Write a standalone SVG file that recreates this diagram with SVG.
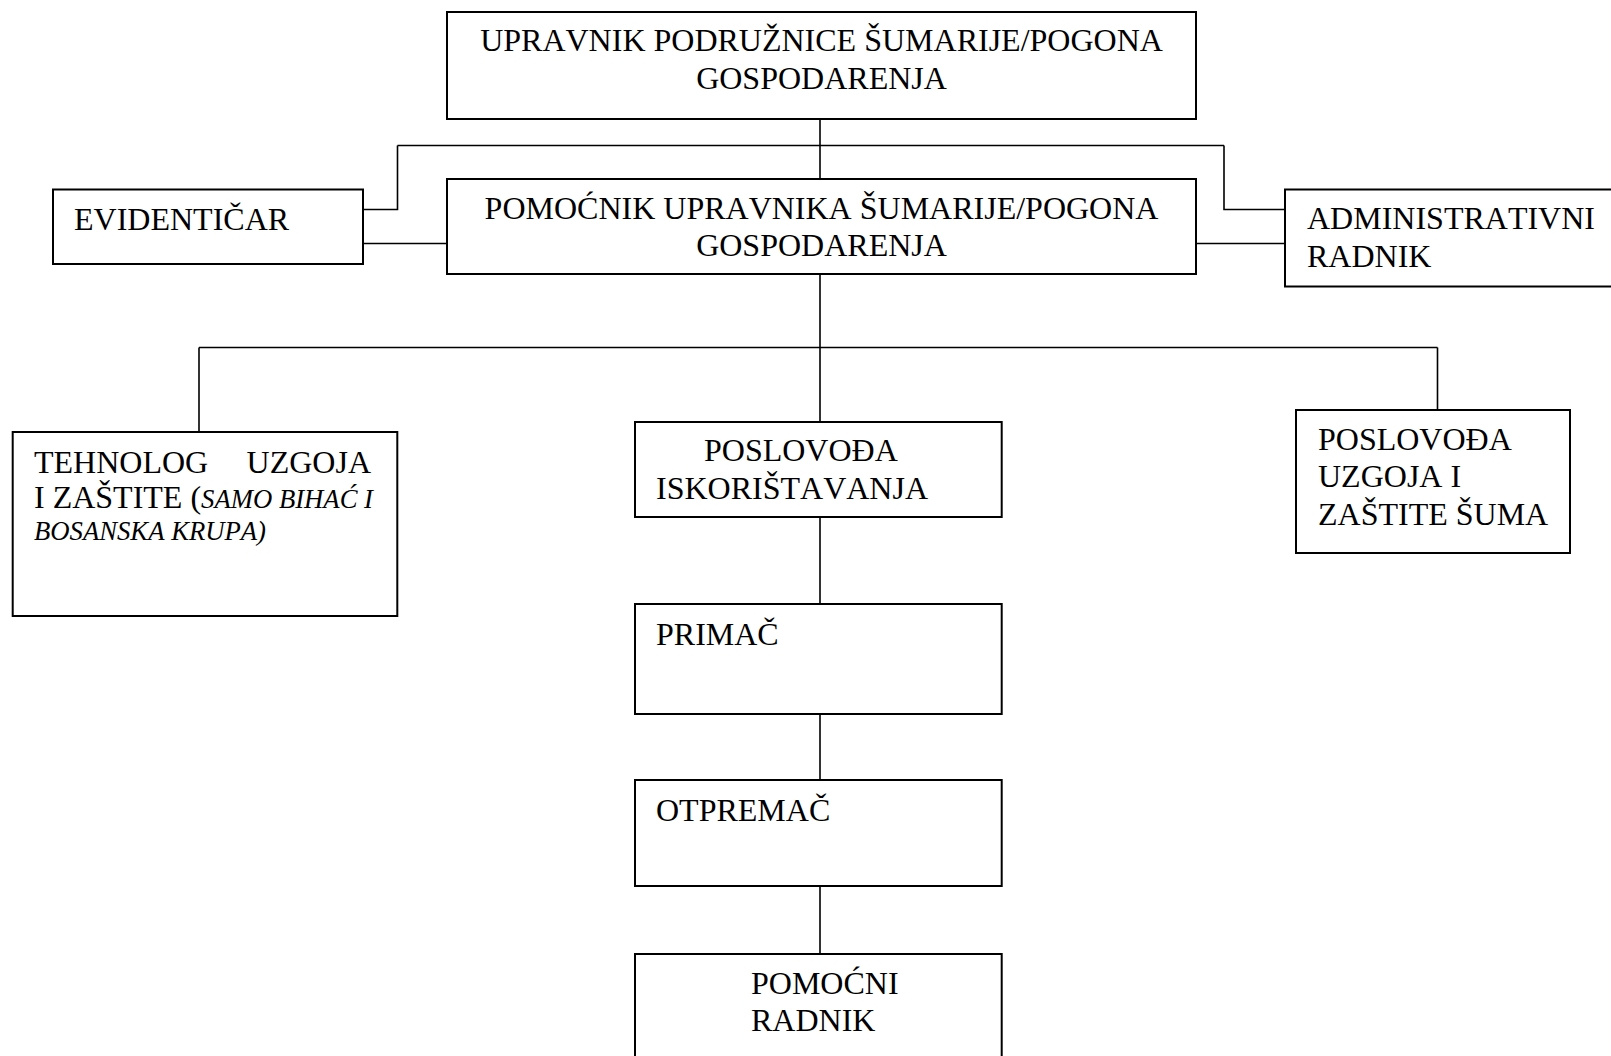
<svg xmlns="http://www.w3.org/2000/svg" width="1611" height="1056" viewBox="0 0 1611 1056">
<style>
.box{fill:#fff;stroke:#000;stroke-width:2}
.ln{fill:none;stroke:#000;stroke-width:1.6}
text{font-family:"Liberation Serif","Times New Roman",serif;font-size:32px;fill:#000;font-kerning:none}
.it{font-style:italic;font-size:26.7px}
.c{text-anchor:middle}
</style>
<rect width="1611" height="1056" fill="#fff"/>
<g id="connectors">
<path class="ln" d="M820 119V179"/>
<path class="ln" d="M397.5 145.5H1224M397.5 145.5V209.5H363M1224 145.5V209.5H1285"/>
<path class="ln" d="M363 243.5H447M1196 243.5H1285"/>
<path class="ln" d="M820 274V422"/>
<path class="ln" d="M199 347.5H1437.5M199 347.5V432M1437.5 347.5V410"/>
<path class="ln" d="M820 517V604M820 714V780M820 886V954"/>
</g>
<g id="upravnik">
<rect class="box" x="447" y="12" width="749" height="107"/>
<text class="c" x="821.5" y="51">UPRAVNIK PODRUŽNICE ŠUMARIJE/POGONA</text>
<text class="c" x="821.5" y="88.5">GOSPODARENJA</text>
</g>
<g id="pomocnik">
<rect class="box" x="447" y="179" width="749" height="95"/>
<text class="c" x="821.5" y="219">POMOĆNIK UPRAVNIKA ŠUMARIJE/POGONA</text>
<text class="c" x="821.5" y="256">GOSPODARENJA</text>
</g>
<g id="evidenticar">
<rect class="box" x="53" y="189.5" width="310" height="74.5"/>
<text x="74" y="230">EVIDENTIČAR</text>
</g>
<g id="administrativni">
<rect class="box" x="1285" y="189.5" width="340" height="97"/>
<text x="1307" y="228.5">ADMINISTRATIVNI</text>
<text x="1307" y="266.5">RADNIK</text>
</g>
<g id="tehnolog">
<rect class="box" x="12.7" y="432" width="384.6" height="184"/>
<text x="34" y="472.5">TEHNOLOG</text>
<text x="371" y="472.5" text-anchor="end">UZGOJA</text>
<text x="34" y="507.5">I ZAŠTITE (<tspan class="it">SAMO BIHAĆ I</tspan></text>
<text class="it" x="34" y="540">BOSANSKA KRUPA)</text>
</g>
<g id="poslovodja-iskoristavanja">
<rect class="box" x="635" y="422" width="366.7" height="95"/>
<text x="704" y="461">POSLOVOĐA</text>
<text x="656" y="499">ISKORIŠTAVANJA</text>
</g>
<g id="poslovodja-uzgoja">
<rect class="box" x="1296" y="410" width="274" height="143"/>
<text x="1318" y="449.5">POSLOVOĐA</text>
<text x="1318" y="487">UZGOJA I</text>
<text x="1318" y="524.5">ZAŠTITE ŠUMA</text>
</g>
<g id="primac">
<rect class="box" x="635" y="604" width="366.7" height="110"/>
<text x="656" y="645">PRIMAČ</text>
</g>
<g id="otpremac">
<rect class="box" x="635" y="780" width="366.7" height="106"/>
<text x="656" y="820.5">OTPREMAČ</text>
</g>
<g id="pomocni-radnik">
<rect class="box" x="635" y="954" width="366.7" height="110"/>
<text x="751" y="993.5">POMOĆNI</text>
<text x="751" y="1030.5">RADNIK</text>
</g>
</svg>
